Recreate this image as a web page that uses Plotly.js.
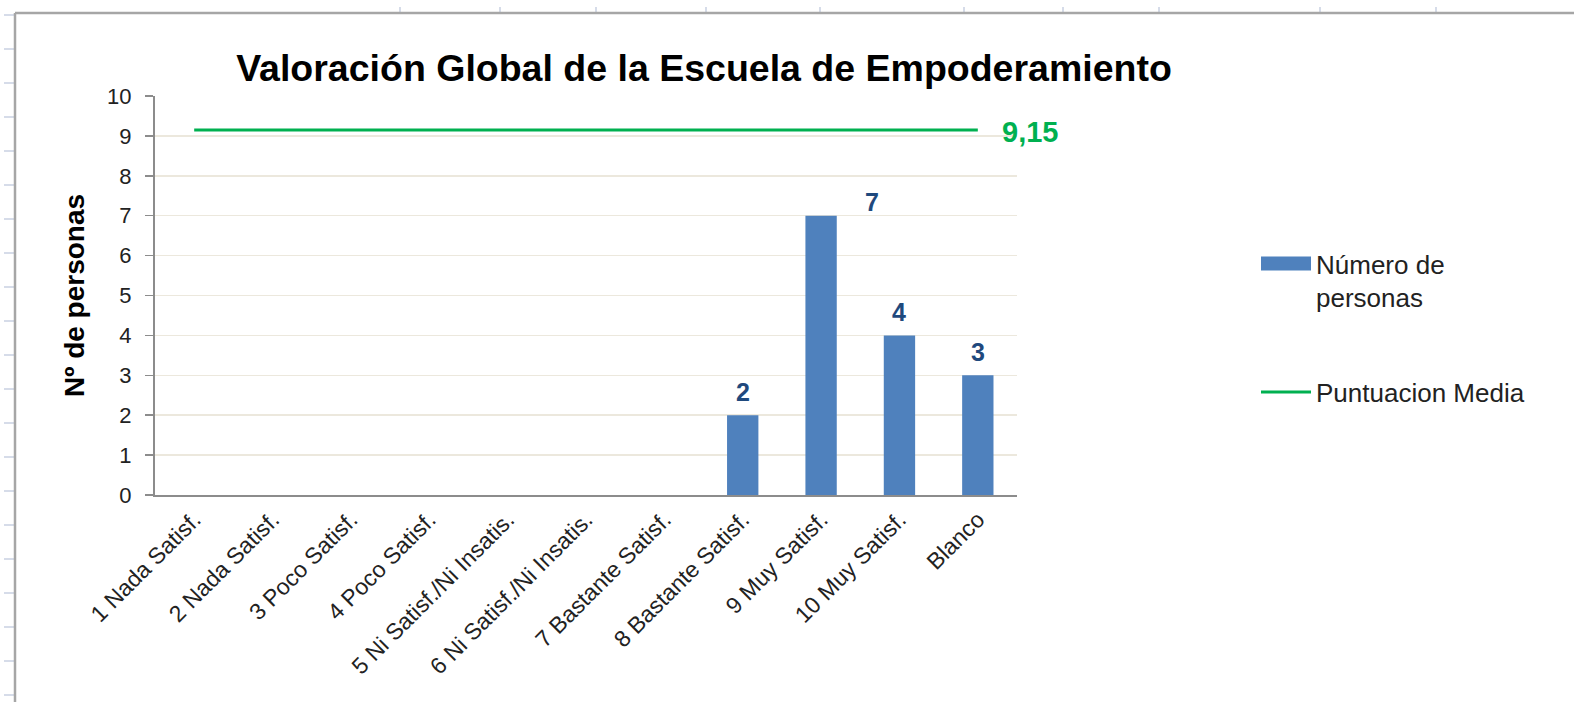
<!DOCTYPE html>
<html>
<head>
<meta charset="utf-8">
<script src="https://cdn.plot.ly/plotly-3.0.1.min.js"></script>
<style>
html,body{margin:0;padding:0;background:#fff;}
#chart{width:1574px;height:702px;}
</style>
</head>
<body>
<div id="chart"></div>
<script>
const categories = ["1 Nada Satisf.", "2 Nada Satisf.", "3 Poco Satisf.", "4 Poco Satisf.",
  "5 Ni Satisf./Ni Insatis.", "6 Ni Satisf./Ni Insatis.", "7 Bastante Satisf.",
  "8 Bastante Satisf.", "9 Muy Satisf.", "10 Muy Satisf.", "Blanco"];
const personas = [0, 0, 0, 0, 0, 0, 0, 2, 7, 4, 3];
const mediaValue = 9.15;
const mediaLabel = "9,15";
const yTicks = [0,1,2,3,4,5,6,7,8,9,10];

const W = 1574, H = 702;
const L = 155, R = 1017, T = 96, B = 495;
const px = x => (x - L) / (R - L);
const py = y => (B - y) / (B - T);
const font = 'Liberation Sans, Arial, sans-serif';

const bars = {
  type: 'bar', x: categories, y: personas, name: 'Número de<br>personas',
  marker: {color: '#4F81BD'}, width: 0.4, legendgroup: 'a',
  hoverinfo: 'x+y'
};
const media = {
  type: 'scatter', mode: 'lines', x: categories, y: categories.map(() => mediaValue),
  name: 'Puntuacion Media', line: {color: '#00B050', width: 3}, legendgroup: 'b'
};

const annotations = [];
personas.forEach((v, i) => {
  if (v > 0) {
    const is7 = v === 7;
    annotations.push({
      x: categories[i], y: v, xref: 'x', yref: 'y', text: '<b>' + v + '</b>', showarrow: false,
      yanchor: 'bottom', yshift: is7 ? -2 : 7, xshift: is7 ? 51 : 0,
      font: {family: font, size: 25, color: '#1F497D'}
    });
  }
});
annotations.push({
  x: categories[categories.length - 1], y: mediaValue, xref: 'x', yref: 'y',
  text: '<b>' + mediaLabel + '</b>', showarrow: false, xanchor: 'left', xshift: 22, yshift: -2,
  font: {family: font, size: 29, color: '#00B050'}
});

// spreadsheet frame decoration
const shapes = [];
const gridCol = '#c9d0e2';
for (let k = 0; k <= 20; k++) {
  const yy = 15 + 34 * k;
  shapes.push({type: 'line', xref: 'paper', yref: 'paper', x0: px(4), x1: px(15), y0: py(yy), y1: py(yy),
    line: {color: gridCol, width: 1.5}, layer: 'below'});
}
[400, 500, 596, 706, 820, 964, 1063, 1159, 1320, 1436].forEach(xx => {
  shapes.push({type: 'line', xref: 'paper', yref: 'paper', x0: px(xx), x1: px(xx), y0: py(7), y1: py(13),
    line: {color: gridCol, width: 1.5}, layer: 'below'});
});
shapes.push({type: 'line', xref: 'paper', yref: 'paper', x0: px(15), x1: px(1580), y0: py(13), y1: py(13),
  line: {color: '#a6a6a6', width: 2.5}, layer: 'below'});
shapes.push({type: 'line', xref: 'paper', yref: 'paper', x0: px(15), x1: px(15), y0: py(13), y1: py(710),
  line: {color: '#a6a6a6', width: 2.5}, layer: 'below'});

const layout = {
  width: W, height: H,
  margin: {l: L, r: W - R, t: T, b: H - B},
  paper_bgcolor: '#ffffff', plot_bgcolor: '#ffffff',
  font: {family: font, color: '#222'},
  title: {text: '<b>Valoración Global de la Escuela de Empoderamiento</b>',
    x: 704 / W, xanchor: 'center', xref: 'container', yref: 'container', y: 1 - 68 / H, yanchor: 'middle',
    font: {family: font, size: 37.5, color: '#000'}},
  xaxis: {
    type: 'category', tickangle: -45, tickfont: {family: font, size: 23, color: '#222'},
    showgrid: false, showline: true, linecolor: '#8c8c8c', linewidth: 2,
    ticks: '', automargin: false, range: [-0.5, categories.length - 0.5]
  },
  yaxis: {
    range: [0, 10], tickvals: yTicks, ticktext: yTicks.map(String),
    tickfont: {family: font, size: 22, color: '#222'},
    showgrid: true, gridcolor: '#ece8dd', gridwidth: 1.5, zeroline: false,
    showline: true, linecolor: '#8c8c8c', linewidth: 2,
    ticks: 'outside', ticklen: 8, tickcolor: '#8c8c8c', tickwidth: 1.5, ticklabelstandoff: 9,
    title: {text: '<b>Nº de personas</b>', font: {family: font, size: 28, color: '#000'}, standoff: 14},
    automargin: false
  },
  bargap: 0.6,
  showlegend: true,
  legend: {x: px(1256), y: py(240), xanchor: 'left', yanchor: 'top',
    font: {family: font, size: 26, color: '#222'}, tracegroupgap: 58, valign: 'top',
    itemwidth: 50, bgcolor: 'rgba(0,0,0,0)'},
  annotations: annotations,
  shapes: shapes
};

function biggestPath(g) {
  let best = null, area = -1;
  g.querySelectorAll('path').forEach(p => {
    let b;
    try { b = p.getBBox(); } catch (e) { return; }
    const a = Math.max(b.width, 1) * Math.max(b.height, 1);
    if (b.width > 0 && a > area) { area = a; best = p; }
  });
  return best;
}

Plotly.newPlot('chart', [bars, media], layout, {displayModeBar: false, staticPlot: true}).then(() => {
  // widen the bar legend swatch to match the line swatch, as in the original
  const gd = document.getElementById('chart');
  const items = gd.querySelectorAll('g.legend g.traces');
  if (items.length < 2) return;
  const linePath = biggestPath(items[1]);
  const barPath = biggestPath(items[0]);
  if (!linePath || !barPath) return;
  const lb = linePath.getBBox();
  barPath.removeAttribute('transform');
  barPath.setAttribute('d', 'M' + lb.x + ',-7H' + (lb.x + lb.width) + 'V7H' + lb.x + 'Z');
});
</script>
</body>
</html>
